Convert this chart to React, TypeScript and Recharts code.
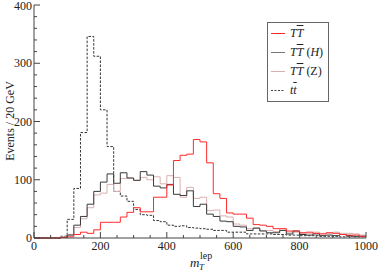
import React from "react";
import { ComposedChart, Line, XAxis, YAxis, Legend } from "recharts";

// lower bin edges in GeV (last entry closes the final bin)
const binEdges = [
  0, 20, 40, 60, 80, 100, 120, 140, 160, 180, 200, 220, 240, 260, 280, 300,
  320, 340, 360, 380, 400, 420, 440, 460, 480, 500, 520, 540, 560, 580, 600,
  620, 640, 660, 680, 700, 720, 740, 760, 780, 800, 820, 840, 860, 880, 900,
  920, 940, 960, 980, 1000,
];

const ttSignal = [
  0, 0, 0, 0, 1, 2, 6, 10, 8, 14, 27, 27, 27, 36, 44, 52, 45, 45, 70, 70, 91,
  133, 142, 144, 169, 165, 129, 76, 68, 43, 41, 41, 34, 23, 22, 20, 16, 16, 12,
  12, 9, 10, 8, 7, 9, 8, 6, 5, 5, 3,
];

const ttHiggs = [
  0, 0, 0, 0, 1, 5, 22, 37, 58, 80, 96, 110, 94, 112, 103, 99, 114, 108, 89,
  86, 92, 75, 73, 81, 54, 58, 41, 37, 29, 28, 20, 19, 13, 17, 12, 9, 9, 13, 7,
  12, 6, 5, 7, 4, 5, 4, 6, 4, 3, 3,
];

const ttZ = [
  0, 0, 0, 0, 2, 6, 18, 33, 52, 74, 77, 92, 80, 102, 103, 99, 104, 100, 105,
  93, 107, 104, 70, 87, 68, 70, 47, 48, 38, 36, 24, 22, 16, 17, 13, 13, 11, 16,
  10, 10, 8, 8, 10, 8, 8, 10, 8, 8, 7, 5,
];

const ttbar = [
  0, 0, 0, 0, 3, 32, 85, 181, 346, 312, 220, 157, 80, 72, 63, 49, 40, 39, 30,
  28, 22, 20, 21, 18, 17, 16, 15, 13, 13, 10, 10, 10, 7, 7, 7, 7, 6, 6, 5, 5, 4,
  4, 4, 3, 3, 3, 2, 3, 2, 2,
];

const xTicks = [
  0, 50, 100, 150, 200, 250, 300, 350, 400, 450, 500, 550, 600, 650, 700, 750,
  800, 850, 900, 950, 1000,
];
const yTicks = [
  0, 20, 40, 60, 80, 100, 120, 140, 160, 180, 200, 220, 240, 260, 280, 300,
  320, 340, 360, 380, 400,
];

const last = ttSignal.length - 1;
const data = binEdges.map((x, i) => ({
  x,
  sig: ttSignal[Math.min(i, last)],
  higgs: ttHiggs[Math.min(i, last)],
  z: ttZ[Math.min(i, last)],
  tt: ttbar[Math.min(i, last)],
}));

const FONT = '"Liberation Serif", "DejaVu Serif", serif';
const AXIS = "#444";
const RED = "#ff2a2a";
const DARK = "#3a3a3a";
const PINK = "#d9b0b0";

const BottomTick = (props: any) => {
  const { x, y, payload } = props;
  const major = payload.value % 200 === 0;
  return (
    <g>
      <line x1={x} x2={x} y1={y} y2={y - (major ? 6 : 3)} stroke={AXIS} />
      {major && (
        <text x={x} y={y + 12} textAnchor="middle" fontFamily={FONT} fontSize={12} fill="#222">
          {payload.value}
        </text>
      )}
    </g>
  );
};

const TopTick = (props: any) => {
  const { x, y, payload } = props;
  const major = payload.value % 200 === 0;
  return <line x1={x} x2={x} y1={y} y2={y + (major ? 6 : 3)} stroke={AXIS} />;
};

const LeftTick = (props: any) => {
  const { x, y, payload } = props;
  const major = payload.value % 100 === 0;
  return (
    <g>
      <line x1={x} x2={x + (major ? 6 : 3)} y1={y} y2={y} stroke={AXIS} />
      {major && (
        <text x={x - 2} y={Math.max(y + 4, 10)} textAnchor="end" fontFamily={FONT} fontSize={12} fill="#222">
          {payload.value}
        </text>
      )}
    </g>
  );
};

const RightTick = (props: any) => {
  const { x, y, payload } = props;
  const major = payload.value % 100 === 0;
  return <line x1={x} x2={x - (major ? 6 : 3)} y1={y} y2={y} stroke={AXIS} />;
};

const Bar = ({ children }: { children: React.ReactNode }) => (
  <i style={{ textDecoration: "overline" }}>{children}</i>
);

const legendRows = [
  { key: "sig", color: RED, dash: undefined, label: <><i>T</i><Bar>T</Bar></> },
  { key: "higgs", color: "#777", dash: undefined, label: <><i>T</i><Bar>T</Bar> (<i>H</i>)</> },
  { key: "z", color: PINK, dash: undefined, label: <><i>T</i><Bar>T</Bar> (Z)</> },
  { key: "tt", color: "#444", dash: "2 1.5", label: <><i>t</i><Bar>t</Bar></> },
];

const LegendBox = () => (
  <div
    style={{
      border: "1px solid #666",
      background: "#fff",
      width: 60,
      height: 77,
      boxSizing: "content-box",
      fontFamily: FONT,
      fontSize: 12,
      color: "#222",
      paddingTop: 1,
    }}
  >
    {legendRows.map((r) => (
      <div key={r.key} style={{ height: 19, display: "flex", alignItems: "center" }}>
        <svg width={22} height={19} style={{ flex: "none" }}>
          <line x1={3} x2={17} y1={9.5} y2={9.5} stroke={r.color} strokeDasharray={r.dash} />
        </svg>
        <span style={{ whiteSpace: "nowrap" }}>{r.label}</span>
      </div>
    ))}
  </div>
);

const YTitle = () => (
  <text
    x={14}
    y={121}
    transform="rotate(-90 14 121)"
    textAnchor="middle"
    fontFamily={FONT}
    fontSize={12}
    fill="#222"
  >
    Events / 20 GeV
  </text>
);

const XTitle = () => (
  <text fontFamily={FONT} fill="#222">
    <tspan x={190} y={267} fontSize={13} fontStyle="italic">m</tspan>
    <tspan x={199} y={270} fontSize={9} fontStyle="italic">T</tspan>
    <tspan x={200} y={259} fontSize={10}>lep</tspan>
  </text>
);

export default function App() {
  return (
    <div style={{ position: "absolute", left: 0, top: 0, background: "#fff" }}>
      <ComposedChart
        width={379}
        height={273}
        data={data}
        margin={{ top: 5, right: 13, left: 0, bottom: 0 }}
      >
        <XAxis
          dataKey="x"
          type="number"
          domain={[0, 1000]}
          ticks={xTicks}
          interval={0}
          height={35}
          tickSize={0}
          tickMargin={0}
          tick={<BottomTick />}
          axisLine={{ stroke: AXIS }}
          tickLine={false}
          label={{ content: () => <XTitle /> }}
        />
        <XAxis
          xAxisId="top"
          orientation="top"
          dataKey="x"
          type="number"
          domain={[0, 1000]}
          ticks={xTicks}
          interval={0}
          height={0}
          tickSize={0}
          tickMargin={0}
          tick={<TopTick />}
          axisLine={{ stroke: AXIS }}
          tickLine={false}
        />
        <YAxis
          type="number"
          domain={[0, 400]}
          ticks={yTicks}
          interval={0}
          width={34}
          tickSize={0}
          tickMargin={0}
          tick={<LeftTick />}
          axisLine={{ stroke: AXIS }}
          tickLine={false}
          label={{ content: () => <YTitle /> }}
        />
        <YAxis
          yAxisId="right"
          orientation="right"
          type="number"
          domain={[0, 400]}
          ticks={yTicks}
          interval={0}
          width={0}
          tickSize={0}
          tickMargin={0}
          tick={<RightTick />}
          axisLine={{ stroke: AXIS }}
          tickLine={false}
        />
        <Legend
          layout="horizontal"
          verticalAlign="middle"
          align="center"
          content={() => <LegendBox />}
          wrapperStyle={{ left: 267, top: 22, width: 62, height: 79 }}
        />
        <Line type="stepAfter" dataKey="tt" stroke="#333" strokeWidth={1} strokeDasharray="2.5 1.5" dot={false} isAnimationActive={false} />
        <Line type="stepAfter" dataKey="z" stroke={PINK} strokeWidth={1} dot={false} isAnimationActive={false} />
        <Line type="stepAfter" dataKey="higgs" stroke={DARK} strokeWidth={1} dot={false} isAnimationActive={false} />
        <Line type="stepAfter" dataKey="sig" stroke={RED} strokeWidth={1} dot={false} isAnimationActive={false} />
      </ComposedChart>
    </div>
  );
}
